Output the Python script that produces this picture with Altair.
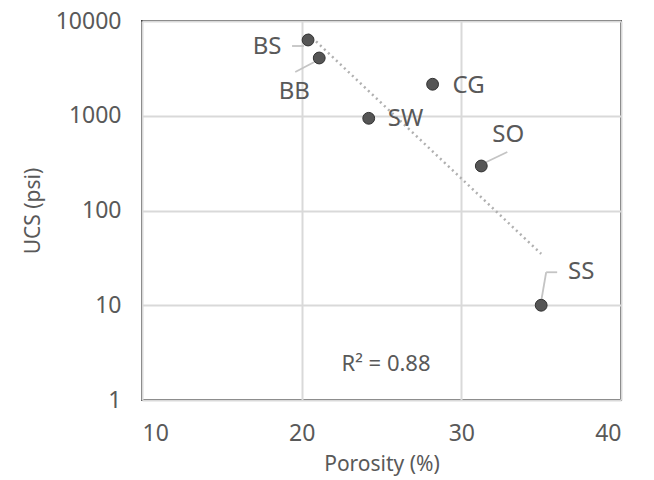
import altair as alt
import pandas as pd

# data
samples = ["BS", "BB", "SW", "CG", "SO", "SS"]
porosity = [20.4, 21.1, 24.2, 28.2, 31.25, 35.0]
ucs = [6300, 4070, 940, 2150, 295, 10]
r2_text = "R² = 0.88"

x_ticks = [10, 20, 30, 40]
y_ticks = [1, 10, 100, 1000, 10000]

df = pd.DataFrame({"sample": samples, "porosity": porosity, "ucs": ucs})

# label placement (pixel offsets from the point) and leader segments
label_style = {
    "BS": dict(dx=-41, dy=7, align="center", leaders=[(-16, 6, -4, 6)]),
    "BB": dict(dx=-25, dy=34, align="center", leaders=[(-24, 14, -3, 3)]),
    "SW": dict(dx=19, dy=1, align="left", leaders=[]),
    "CG": dict(dx=20, dy=2, align="left", leaders=[]),
    "SO": dict(dx=27, dy=-31, align="center", leaders=[(3, -3, 26, -14)]),
    "SS": dict(dx=40, dy=-33, align="center", leaders=[(0, -4, 5, -33), (5, -33, 16, -33)]),
}

FONT = "Noto Sans"
TXT = "#595959"

xs = alt.Scale(domain=[10, 40], nice=False, zero=False)
ys = alt.Scale(type="log", domain=[1, 10000], nice=False)

X = alt.X("porosity:Q", scale=xs, title="Porosity (%)",
          axis=alt.Axis(values=x_ticks, format="d", grid=True, ticks=False, domain=False,
                        labelPadding=22, titlePadding=8, labelFontSize=23, titleFontSize=21,
                        labelColor=TXT, titleColor=TXT, gridColor="#d9d9d9", gridWidth=2,
                        labelFont=FONT, titleFont=FONT, titleFontWeight="normal"))
Y = alt.Y("ucs:Q", scale=ys, title="UCS (psi)",
          axis=alt.Axis(values=y_ticks, format="d", grid=True, ticks=False, domain=False,
                        labelPadding=21, titlePadding=12, labelFontSize=23, titleFontSize=21,
                        labelColor=TXT, titleColor=TXT, gridColor="#d9d9d9", gridWidth=2,
                        labelFont=FONT, titleFont=FONT, titleFontWeight="normal"))

base = alt.Chart(df)

trend = base.transform_calculate(
    logucs="log(datum.ucs)/LN10"
).transform_regression(
    "porosity", "logucs", method="linear"
).transform_calculate(
    ucs="pow(10, datum.logucs)"
).mark_line(color="#b0b0b0", strokeDash=[2, 3.5], strokeWidth=2.5).encode(
    x=alt.X("porosity:Q", scale=xs), y=alt.Y("ucs:Q", scale=ys)
)

layers = [trend]

for s, st in label_style.items():
    sub = base.transform_filter(alt.datum.sample == s)
    for (x1, y1, x2, y2) in st["leaders"]:
        layers.append(
            sub.mark_rule(color="#c4c4c4", strokeWidth=1.8,
                          xOffset=x1, yOffset=y1, x2Offset=x2, y2Offset=y2).encode(
                x=alt.X("porosity:Q", scale=xs), y=alt.Y("ucs:Q", scale=ys),
                x2="porosity:Q", y2="ucs:Q")
        )

points = base.mark_point(filled=True, size=140, color="#555555", stroke="#333333",
                         strokeWidth=1, opacity=1).encode(x=X, y=Y)
layers.append(points)

for s, st in label_style.items():
    layers.append(
        base.transform_filter(alt.datum.sample == s).mark_text(
            dx=st["dx"], dy=st["dy"], fontSize=24, font=FONT, color=TXT,
            align=st["align"], baseline="middle").encode(
            x=alt.X("porosity:Q", scale=xs), y=alt.Y("ucs:Q", scale=ys), text="sample:N")
    )

r2 = alt.Chart(pd.DataFrame({"t": [r2_text]})).mark_text(
    fontSize=22, font=FONT, color=TXT, align="center", baseline="middle"
).encode(x=alt.value(244), y=alt.value(343), text="t:N")
layers.append(r2)

chart = alt.layer(*layers).properties(
    width=479, height=379,
    autosize=alt.AutoSizeParams(type="none"),
    padding={"left": 142, "top": 21, "right": 33, "bottom": 80},
    background="white",
).configure_view(stroke="#404040", strokeWidth=2)

chart.save("out.html", embed_options={"renderer": "svg", "actions": False})
